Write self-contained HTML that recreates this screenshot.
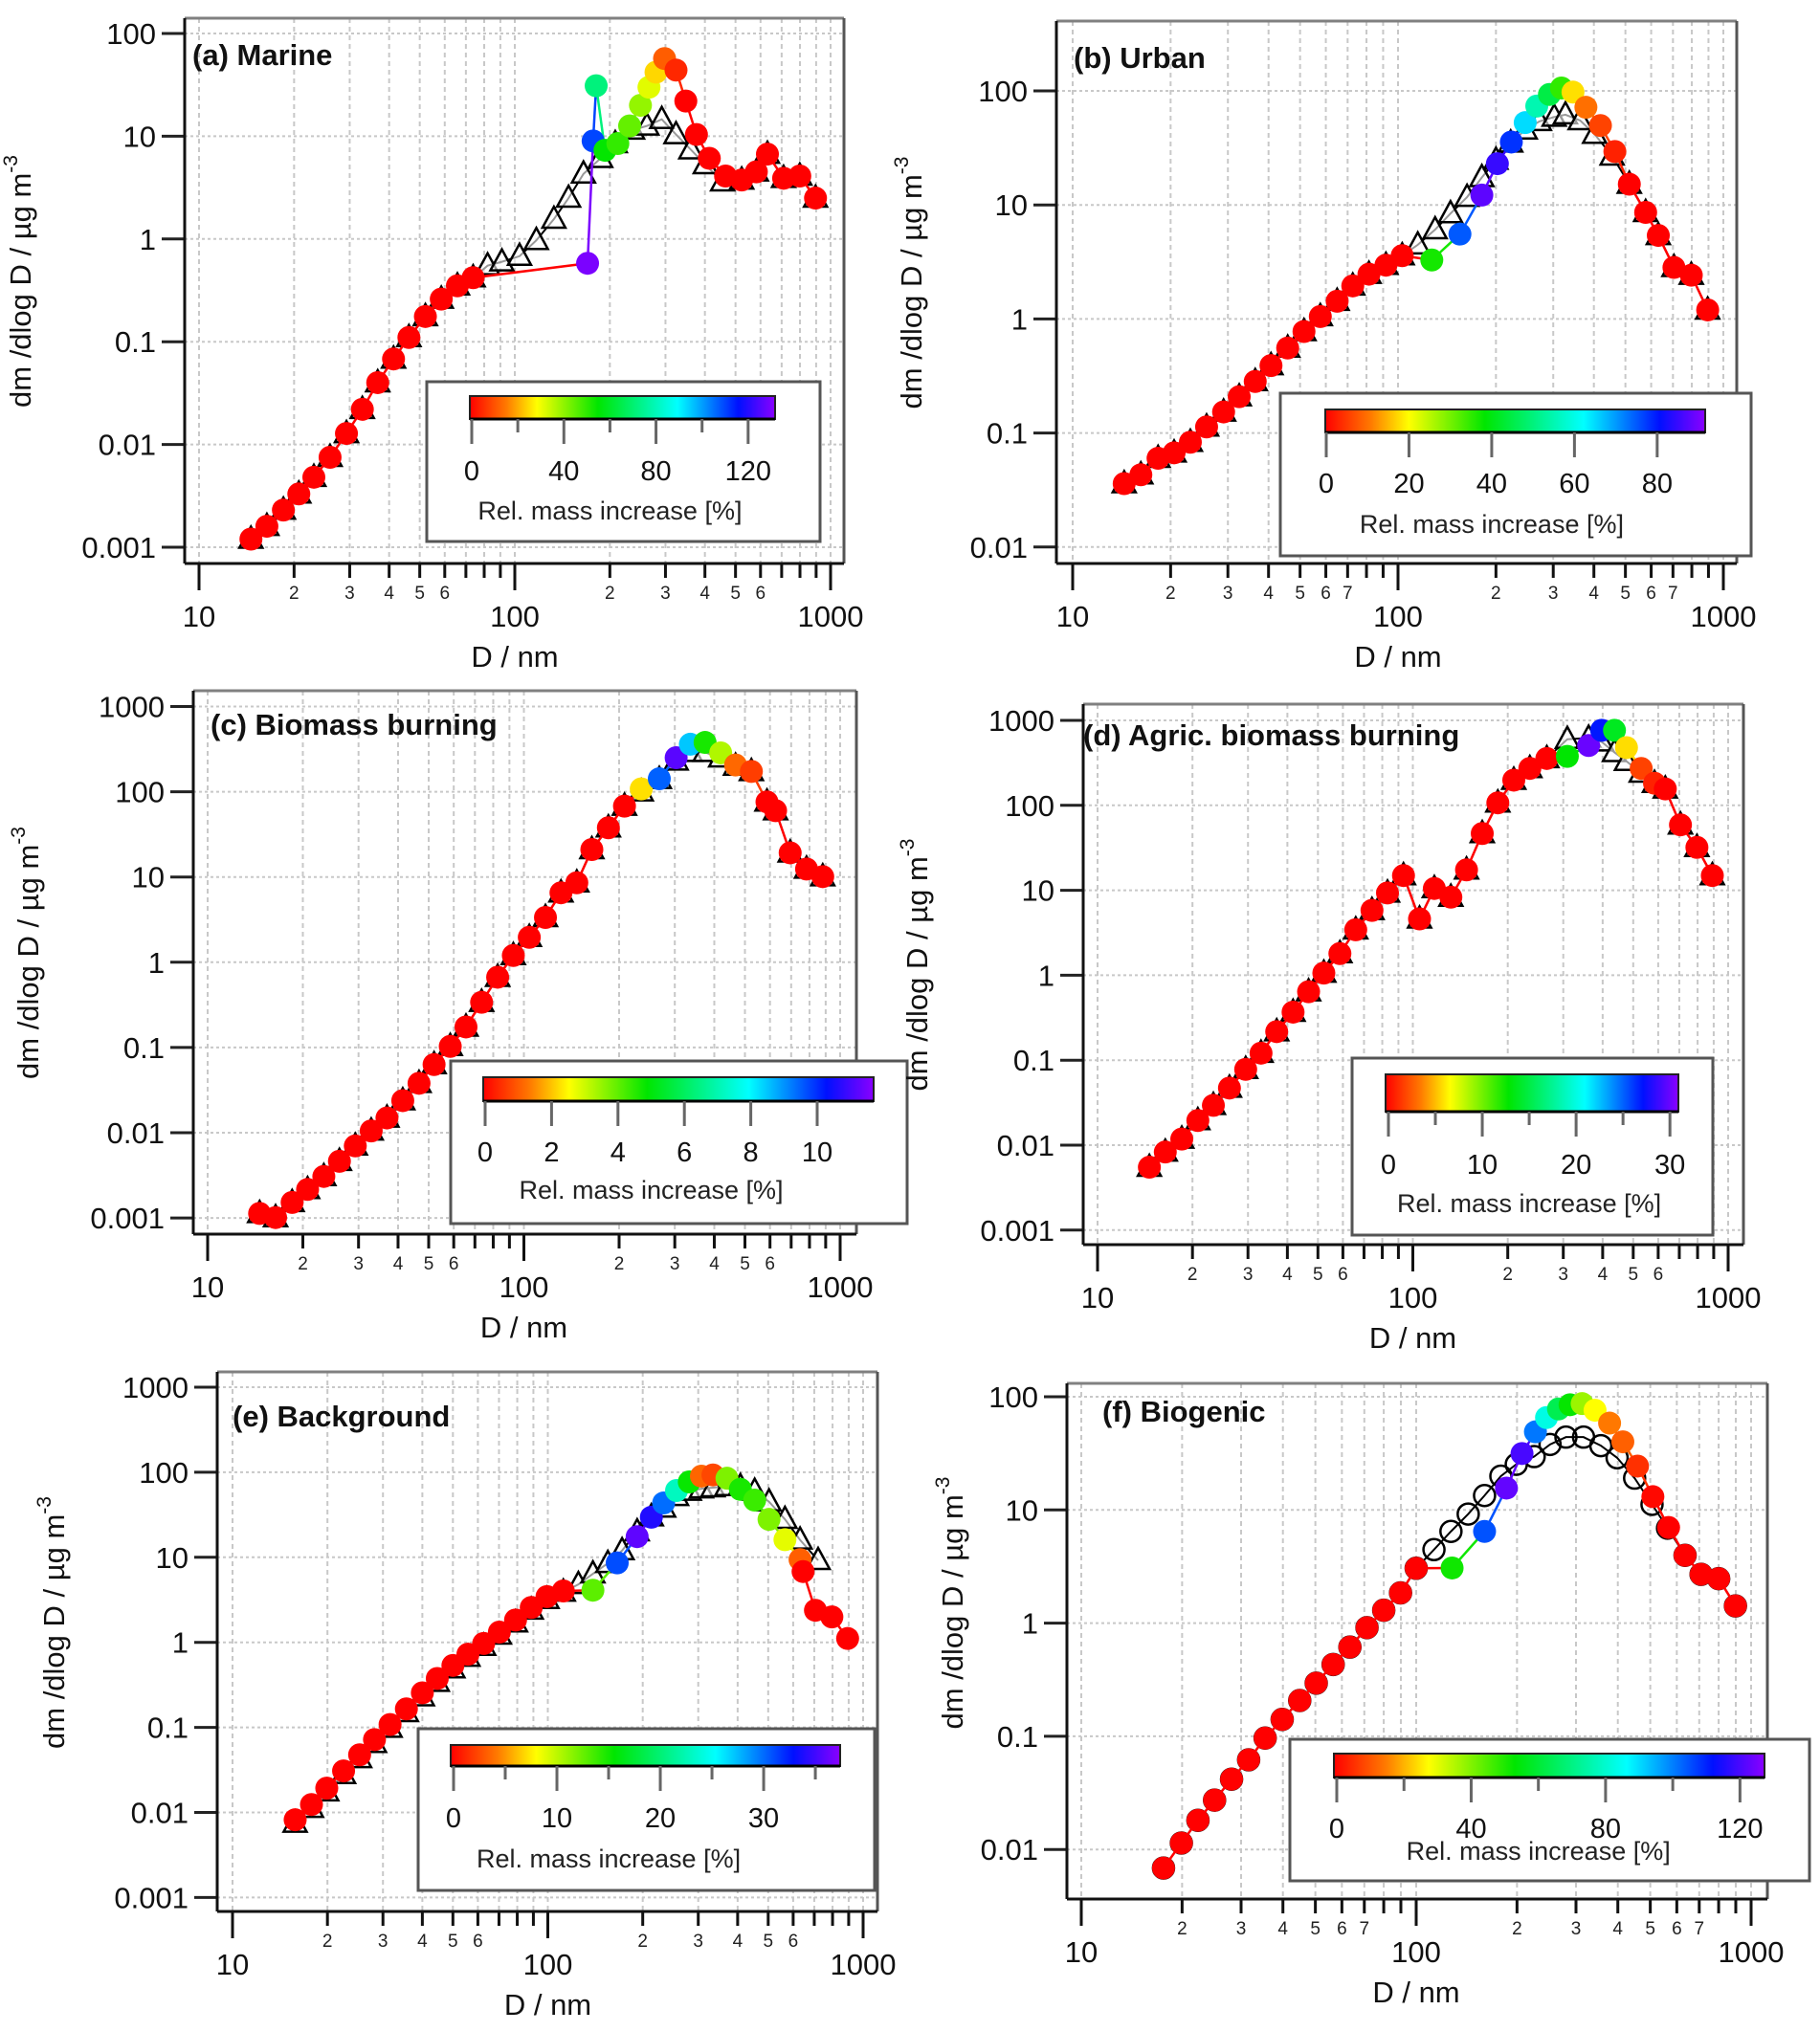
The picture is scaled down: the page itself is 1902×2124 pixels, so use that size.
<!DOCTYPE html>
<html><head><meta charset="utf-8"><style>
html,body{margin:0;padding:0;background:#fff;}
svg{display:block;font-family:"Liberation Sans",Arial,sans-serif;}
</style></head><body>
<svg id="fig" width="1902" height="2124" viewBox="0 0 1902 2124" xmlns="http://www.w3.org/2000/svg">
<defs>
<linearGradient id="cmap" x1="0" x2="1" y1="0" y2="0">
<stop offset="0" stop-color="#ff0000"/><stop offset="0.12" stop-color="#ff7a00"/><stop offset="0.22" stop-color="#ffff00"/><stop offset="0.42" stop-color="#00e600"/><stop offset="0.68" stop-color="#00ffff"/><stop offset="0.88" stop-color="#0010ff"/><stop offset="1" stop-color="#8a00ff"/>
</linearGradient>
</defs>
</svg>
<script>
// ---- Panel (a) Marine ----
const aColD=[14.6,16.4,18.5,20.7,23.1,26.0,29.3,32.9,36.8,41.3,46.2,52.1,58.5,65.8,73.8,170,177,181,193,212,231,250,266,280,298,324,348,376,413,465,523,582,631,710,799,896];
const aColM=[0.0012,0.0016,0.0023,0.0033,0.0048,0.0075,0.0128,0.022,0.040,0.068,0.11,0.176,0.26,0.35,0.42,0.58,9.0,31,7.3,8.5,12.6,20,30,42,57,44,22,10.4,6.1,4.1,3.75,4.5,6.7,3.9,4.1,2.5];
const aColInc=[0,0,0,0,0,0,0,0,0,0,0,0,0,0,0,130,110,72,55,50,45,40,32,25,12,5,0,0,0,0,0,0,0,0,0,0];
const aRefD=[14.6,16.4,18.5,20.7,23.1,26.0,29.3,32.9,36.8,41.3,46.2,52.1,58.5,65.8,73.8,82,91,103.5,117,133,148,165,187,208,236,262,292,324,361,401,455,523,582,631,710,799,896];
const aRefM=[0.0012,0.0016,0.0023,0.0033,0.0048,0.0075,0.0128,0.022,0.040,0.068,0.11,0.176,0.26,0.35,0.42,0.55,0.6,0.68,0.97,1.56,2.5,4.3,6.1,8.5,11.5,12.6,14.6,10.4,7.4,5.3,3.6,3.75,4.5,6.7,3.9,4.1,2.5];
// ---- Panel (b) Urban ----
const bColD=[14.4,16.2,18.3,20.5,23.0,25.8,29.1,32.5,36.4,40.7,45.8,51.4,57.7,65.0,72.6,81.4,91.8,103,127,155,181,202,223,246,267,292,318,345,378,419,464,514,577,631,705,797,895];
const bColM=[0.036,0.043,0.060,0.067,0.083,0.113,0.153,0.208,0.283,0.39,0.556,0.776,1.05,1.43,1.95,2.47,2.96,3.59,3.29,5.55,12.2,23,35.6,52.7,73.6,93,106,97.5,71.8,49.7,29.4,15.2,8.6,5.4,2.83,2.42,1.2];
const bColInc=[0,0,0,0,0,0,0,0,0,0,0,0,0,0,0,0,0,0,37,75,88,85,78,65,55,45,35,18,10,6,3,0,0,0,0,0,0];
const bRefD=[14.4,16.2,18.3,20.5,23.0,25.8,29.1,32.5,36.4,40.7,45.8,51.4,57.7,65.0,72.6,81.4,91.8,103,115,130,145,163,181,200,222,246,272,302,327,363,402,455,514,577,631,705,797,895];
const bRefM=[0.036,0.043,0.060,0.067,0.083,0.113,0.153,0.208,0.283,0.39,0.556,0.776,1.05,1.43,1.95,2.47,2.96,3.59,4.47,6.07,8.4,11.7,17.4,24.7,35,45.5,54,59,61.8,55,41.7,26.9,15.2,8.6,5.4,2.83,2.42,1.2];
// ---- Panel (c) Biomass burning ----
const cColD=[14.6,16.4,18.5,20.7,23.3,26.1,29.3,32.9,36.9,41.4,46.6,52.0,58.5,65.6,73.5,82.6,92.6,104,117,131,147,164,185,208,235,268,303,336,374,419,467,524,587,625,695,783,881];
const cColM=[0.00113,0.00101,0.00152,0.00216,0.00307,0.00462,0.0070,0.0105,0.0149,0.0238,0.038,0.063,0.103,0.174,0.339,0.667,1.20,1.96,3.35,6.53,8.55,21,37.8,67.8,108,142,251,361,379,286,206,173,76,60,19.2,12.4,10.1];
const cColInc=[0,0,0,0,0,0,0,0,0,0,0,0,0,0,0,0,0,0,0,0,0,0,0,0,2.3,9.5,11.2,8.5,4.7,3.3,1.2,0.7,0,0,0,0,0];
const cRefD=[14.6,16.4,18.5,20.7,23.3,26.1,29.3,32.9,36.9,41.4,46.6,52.0,58.5,65.6,73.5,82.6,92.6,104,117,131,147,164,185,208,235,268,303,336,374,419,467,524,587,625,695,783,881];
const cRefM=[0.00113,0.00101,0.00152,0.00216,0.00307,0.00462,0.0070,0.0105,0.0149,0.0238,0.038,0.063,0.103,0.174,0.339,0.667,1.20,1.96,3.35,6.53,8.55,21,37.8,67.8,100,140,230,290,290,250,200,173,76,60,19.2,12.4,10.1];
// ---- Panel (d) Agric. biomass burning ----
const dColD=[14.6,16.4,18.5,20.8,23.3,26.2,29.5,33.0,37.0,41.7,46.7,52.2,58.7,65.9,74.2,83.1,93.4,105,117,132,148,166,186,209,235,266,309,361,397,436,476,530,584,632,706,796,891];
const dColM=[0.0055,0.0083,0.0118,0.0195,0.0294,0.047,0.078,0.121,0.217,0.368,0.64,1.06,1.80,3.43,5.8,9.3,14.9,4.6,10.5,8.3,17.4,46.6,107,198,272,356,377,506,764,764,478,272,182,156,58.9,32,14.9];
const dColInc=[0,0,0,0,0,0,0,0,0,0,0,0,0,0,0,0,0,0,0,0,0,0,0,0,0,0,13,30,27,14,6,2,1,0,0,0,0];
const dRefD=[14.6,16.4,18.5,20.8,23.3,26.2,29.5,33.0,37.0,41.7,46.7,52.2,58.7,65.9,74.2,83.1,93.4,105,117,132,148,166,186,209,235,266,309,361,397,436,476,530,584,632,706,796,891];
const dRefM=[0.0055,0.0083,0.0118,0.0195,0.0294,0.047,0.078,0.121,0.217,0.368,0.64,1.06,1.80,3.43,5.8,9.3,14.9,4.6,10.5,8.3,17.4,46.6,107,198,272,356,600,620,560,420,330,240,182,156,58.9,32,14.9];
// ---- Panel (e) Background ----
const eColD=[15.8,17.8,19.9,22.5,25.3,28.2,31.6,35.6,40.0,44.6,50.0,55.8,62.6,70.2,79.0,88.6,99.4,112,139,166,192,213,233,256,281,307,334,370,408,453,503,565,631,645,706,796,893];
const eColM=[0.0082,0.0124,0.0193,0.0308,0.0476,0.0718,0.108,0.165,0.255,0.376,0.535,0.725,0.97,1.32,1.83,2.57,3.45,4.02,4.1,8.6,17.5,29.6,43.5,61,77,90,93,85,63,47,27.9,16.1,9.4,6.8,2.38,1.99,1.11];
const eColInc=[0,0,0,0,0,0,0,0,0,0,0,0,0,0,0,0,0,0,13,31,36,34,30,23,15.5,3.7,2.6,12,15,14,12,9,3.5,0,0,0,0];
const eRefD=[15.8,17.8,19.9,22.5,25.3,28.2,31.6,35.6,40.0,44.6,50.0,55.8,62.6,70.2,79.0,88.6,99.4,112,125,139,155,172,192,213,233,256,281,307,334,370,408,453,503,565,631,720];
const eRefM=[0.0075,0.0112,0.0175,0.028,0.043,0.065,0.098,0.15,0.23,0.34,0.49,0.67,0.9,1.22,1.7,2.4,3.2,3.9,4.8,6.4,8.5,12,20,30,38,52,60,64,66,68,68,60,45,28,16,9.2];
// ---- Panel (f) Biogenic ----
const fColD=[17.6,19.9,22.3,25.0,28.1,31.6,35.4,39.8,44.9,50.3,56.5,63.4,71.3,80.0,89.8,100,128,160,186,207,227,245,266,288,313,342,378,414,458,509,567,635,709,800,898];
const fColM=[0.00686,0.0114,0.0181,0.0273,0.0418,0.062,0.0965,0.141,0.207,0.295,0.431,0.614,0.912,1.30,1.85,3.05,3.07,6.46,15.6,31.5,49,65.5,78,85,87,76,58.5,40,24.4,13.1,7.0,3.97,2.70,2.47,1.42];
const fColInc=[0,0,0,0,0,0,0,0,0,0,0,0,0,0,0,0,52,105,123,120,101,83,64,53,38,28,15,12,6,1,0,0,0,0,0];
const fRefD=[17.6,19.9,22.3,25.0,28.1,31.6,35.4,39.8,44.9,50.3,56.5,63.4,71.3,80.0,89.8,100,113,127,143,160,179,199,225,251,280,316,356,398,449,506,563,635,709,800,898];
const fRefM=[0.00686,0.0114,0.0181,0.0273,0.0418,0.062,0.0965,0.141,0.207,0.295,0.431,0.614,0.912,1.30,1.85,3.05,4.46,6.46,9.2,13.4,19.9,25.3,29.6,37.9,44,44,37,28.9,19.1,11.2,6.9,3.97,2.70,2.47,1.42];

const NS='http://www.w3.org/2000/svg';
const svg=document.getElementById('fig');
function mk(tag,attrs,parent){const e=document.createElementNS(NS,tag);for(const k in attrs)e.setAttribute(k,attrs[k]);(parent||svg).appendChild(e);return e;}
const stops=[[0,[255,0,0]],[0.12,[255,122,0]],[0.22,[255,255,0]],[0.42,[0,230,0]],[0.68,[0,255,255]],[0.88,[0,16,255]],[1,[138,0,255]]];
function cmap(f){f=Math.max(0,Math.min(1,f));for(let i=1;i<stops.length;i++){if(f<=stops[i][0]){const a=stops[i-1],b=stops[i];const t=(f-a[0])/(b[0]-a[0]);const c=a[1].map((v,j)=>Math.round(v+(b[1][j]-v)*t));return 'rgb('+c.join(',')+')';}}return 'rgb(138,0,255)';}
function fmtTick(l){return l>=0?String(Math.pow(10,l)):Math.pow(10,l).toFixed(-l);}

function panel(s,colD,colM,colInc,refD,refM){
  const g=mk('g',{});
  
  
  const [L,T,R,B]=s.frame;
  const X=d=>s.x10+(Math.log10(d)-1)*s.xdec;
  const Y=v=>s.y0px+(s.y0log-Math.log10(v))*s.ydec;
  // grid
  for(let dec=10;dec<=1000;dec*=10){for(let k=1;k<=9;k++){const d=dec*k;if(d>1000&&k>1)break;const x=X(d);if(x<L||x>R)continue;
    const gl=mk('line',{x1:x,x2:x,y1:T,y2:B,stroke:'#c8c8c8','stroke-width':2,'stroke-dasharray':'5,4'},g);
    
    }}
  for(const l of s.yTicks){const y=Y(Math.pow(10,l));
    const gl=mk('line',{x1:L,x2:R,y1:y,y2:y,stroke:'#c8c8c8','stroke-width':2,'stroke-dasharray':'3,3'},g);
    
    
    const tk=mk('line',{x1:L-24,x2:L,y1:y,y2:y,stroke:'#222','stroke-width':3},g);
    
    
    const tl=mk('text',{x:L-30,y:y+11,'text-anchor':'end','font-size':31,fill:'#111'},g);
    tl.textContent=fmtTick(l);
    
    }
  // frame
  mk('line',{x1:L,x2:R,y1:T,y2:T,stroke:'#808080','stroke-width':3},g);
  mk('line',{x1:R,x2:R,y1:T,y2:B,stroke:'#555','stroke-width':3},g);
  mk('line',{x1:L,x2:L,y1:T,y2:B,stroke:'#111','stroke-width':3},g);
  mk('line',{x1:L,x2:R,y1:B,y2:B,stroke:'#111','stroke-width':3},g);
  // x ticks
  for(let dec=10;dec<=1000;dec*=10){for(let k=1;k<=9;k++){const d=dec*k;if(d>1000)break;const x=X(d);if(x>R+2)continue;
    const major=k===1;
    const tk=mk('line',{x1:x,x2:x,y1:B,y2:B+(major?28:15),stroke:'#111','stroke-width':3},g);
    
    
    if(major){const t=mk('text',{x:x,y:B+66,'text-anchor':'middle','font-size':31,fill:'#111'},g);t.textContent=String(d);
      
      }
    else if(dec<1000&&k<=s.minorMax){const t=mk('text',{x:x,y:B+37,'text-anchor':'middle','font-size':19,fill:'#222'},g);t.textContent=String(k);
      
      }}}
  const xl=mk('text',{x:X(100),y:B+108,'text-anchor':'middle','font-size':31,fill:'#111'},g);
  xl.textContent='D / nm';
  
  
  const yc=(T+B)/2+s.ylabDy;
  const yl=mk('text',{x:0,y:0,'text-anchor':'middle','font-size':31,fill:'#111',transform:'translate('+s.ylabX+','+yc+') rotate(-90)'},g);
  yl.innerHTML='dm /dlog D / µg m<tspan dy="-14" font-size="21">-3</tspan>';
  
  
  const ti=mk('text',{x:s.titleX,y:s.titleY+11,'font-size':31,'font-weight':'bold',fill:'#111'},g);
  ti.textContent=s.title;
  
  
  // reference series
  let pts=refD.map((d,i)=>X(d)+','+Y(refM[i])).join(' ');
  const rl=mk('polyline',{points:pts,fill:'none',stroke:'#000','stroke-width':2},g);
  
  
  refD.forEach((d,i)=>{const x=X(d),y=Y(refM[i]);let m;
    if(s.refShape==='circle'){m=mk('circle',{cx:x,cy:y,r:11,fill:'none',stroke:'#000','stroke-width':2.5},g);}
    else{m=mk('polygon',{points:(x)+','+(y-13)+' '+(x-12)+','+(y+9)+' '+(x+12)+','+(y+9),fill:'#fff','fill-opacity':0.6,stroke:'#000','stroke-width':2.5},g);}
    
    });
  // colored series
  for(let i=0;i<colD.length-1;i++){
    const seg=mk('line',{x1:X(colD[i]),y1:Y(colM[i]),x2:X(colD[i+1]),y2:Y(colM[i+1]),stroke:cmap(colInc[i]/s.cbMax),'stroke-width':2.5},g);
    
    }
  colD.forEach((d,i)=>{
    const c=mk('circle',{cx:X(d),cy:Y(colM[i]),r:12,fill:cmap(colInc[i]/s.cbMax)},g);
    
    });
  // legend / colorbar
  const [lx1,ly1,lx2,ly2]=s.legend;
  const lg=mk('rect',{x:lx1,y:ly1,width:lx2-lx1,height:ly2-ly1,fill:'#fff',stroke:'#555','stroke-width':3},g);
  
  
  const [cx1,cy1,cx2,cy2]=s.cbar;
  const cb=mk('rect',{x:cx1,y:cy1,width:cx2-cx1,height:cy2-cy1,fill:'url(#cmap)',stroke:'#222','stroke-width':2},g);
  
  
  mk('line',{x1:cx1,x2:cx2,y1:cy2,y2:cy2,stroke:'#000','stroke-width':3},g);
  const pxu=(cx2-s.cb0px)/s.cbMax;
  for(let v=0;v<=s.cbMax+1e-9;v+=s.cbMinor){const x=s.cb0px+v*pxu;const major=Math.abs(v/s.cbStep-Math.round(v/s.cbStep))<1e-6;
    const tk=mk('line',{x1:x,x2:x,y1:cy2,y2:cy2+(major?26:14),stroke:'#666','stroke-width':3},g);
    
    
    if(major){const t=mk('text',{x:x,y:s.cbLabY+11,'text-anchor':'middle','font-size':29,fill:'#111'},g);t.textContent=String(Math.round(v));
      
      }}
  const ct=mk('text',{x:(s.cb0px+s.cb0px+s.cbStep*pxu*Math.floor(s.cbMax/s.cbStep))/2,y:s.cbTitleY+10,'text-anchor':'middle','font-size':27,fill:'#222'},g);
  ct.textContent='Rel. mass increase [%]';
  
  
}

panel({id:'a-marine',title:'(a) Marine',frame:[193,19,882,589],x10:208,xdec:330,y0log:2,y0px:35,ydec:107.4,yTicks:[-3,-2,-1,0,1,2],minorMax:6,titleX:201,titleY:57,ylabX:32,ylabDy:-10,refShape:'tri',
  legend:[446,399,857,566],cbar:[491,414,810,438],cb0px:493,cbMax:131.7,cbStep:40,cbMinor:20,cbLabY:491,cbTitleY:533},aColD,aColM,aColInc,aRefD,aRefM);
panel({id:'b-urban',title:'(b) Urban',frame:[1104,22,1815,589],x10:1121,xdec:340,y0log:2,y0px:95,ydec:119.2,yTicks:[-2,-1,0,1,2],minorMax:7,titleX:1122,titleY:60,ylabX:963,ylabDy:-10,refShape:'tri',
  legend:[1338,411,1830,581],cbar:[1385,428,1782,452],cb0px:1386,cbMax:91.6,cbStep:20,cbMinor:20,cbLabY:504,cbTitleY:547},bColD,bColM,bColInc,bRefD,bRefM);
panel({id:'c-biomass',title:'(c) Biomass burning',frame:[202,722,895,1290],x10:217,xdec:330.5,y0log:3,y0px:738.5,ydec:89.1,yTicks:[-3,-2,-1,0,1,2,3],minorMax:6,titleX:220,titleY:757,ylabX:40,ylabDy:-10,refShape:'tri',
  legend:[471,1109,948,1279],cbar:[505,1126,913,1151],cb0px:507,cbMax:11.7,cbStep:2,cbMinor:2,cbLabY:1203,cbTitleY:1243},cColD,cColM,cColInc,cRefD,cRefM);
panel({id:'d-agric',title:'(d) Agric. biomass burning',frame:[1132,736,1822,1301],x10:1147,xdec:329.5,y0log:3,y0px:753,ydec:88.8,yTicks:[-3,-2,-1,0,1,2,3],minorMax:6,titleX:1132,titleY:768,ylabX:969,ylabDy:-10,refShape:'tri',
  legend:[1413,1106,1790,1291],cbar:[1448,1123,1754,1162],cb0px:1451,cbMax:30.9,cbStep:10,cbMinor:5,cbLabY:1216,cbTitleY:1257},dColD,dColM,dColInc,dRefD,dRefM);
panel({id:'e-background',title:'(e) Background',frame:[227,1434,917,1998],x10:243,xdec:329.5,y0log:3,y0px:1450,ydec:88.9,yTicks:[-3,-2,-1,0,1,2,3],minorMax:6,titleX:243,titleY:1480,ylabX:67,ylabDy:-20,refShape:'tri',
  legend:[437,1807,914,1976],cbar:[471,1824,878,1846],cb0px:474,cbMax:37.4,cbStep:10,cbMinor:5,cbLabY:1899,cbTitleY:1942},eColD,eColM,eColInc,eRefD,eRefM);
panel({id:'f-biogenic',title:'(f) Biogenic',frame:[1115,1446,1847,1985],x10:1130,xdec:350,y0log:2,y0px:1460,ydec:118.3,yTicks:[-2,-1,0,1,2],minorMax:7,titleX:1152,titleY:1475,ylabX:1006,ylabDy:-40,refShape:'circle',
  legend:[1348,1818,1891,1966],cbar:[1394,1833,1844,1858],cb0px:1397,cbMax:127.3,cbStep:40,cbMinor:20,cbLabY:1910,cbTitleY:1934},fColD,fColM,fColInc,fRefD,fRefM);
</script>
</body></html>
